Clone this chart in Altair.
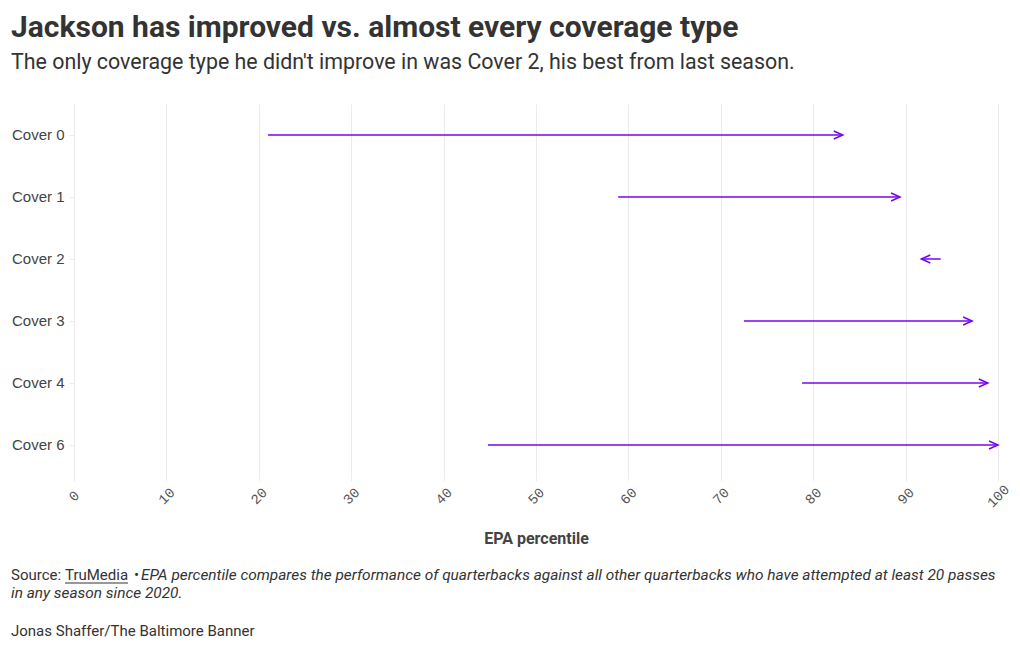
import altair as alt
import pandas as pd

coverages = ["Cover 0", "Cover 1", "Cover 2", "Cover 3", "Cover 4", "Cover 6"]
last_season = [21.0, 58.9, 93.8, 72.5, 78.8, 44.8]
this_season = [83.2, 89.4, 91.7, 97.2, 98.9, 100.0]
x_ticks = [0, 10, 20, 30, 40, 50, 60, 70, 80, 90, 100]

df = pd.DataFrame({"coverage": coverages, "start": last_season, "end": this_season})
df["dir"] = [0 if e >= s else 180 for s, e in zip(last_season, this_season)]

PURPLE = "#7406ee"
FONT = "Roboto"

x_enc = alt.X("start:Q", scale=alt.Scale(domain=[0, 100], nice=False),
              axis=alt.Axis(values=x_ticks, title="EPA percentile", labelAngle=315,
                            labelAlign="center", labelBaseline="middle", labelPadding=15,
                            labelFont="Liberation Mono", labelFontSize=14, labelColor="#555",
                            titleFont=FONT, titleFontSize=16, titleFontWeight="bold",
                            titleColor="#444", titleY=67, titleBaseline="alphabetic",
                            grid=True, gridColor="#ebebeb", tickColor="#ebebeb", tickSize=5,
                            domain=False))
y_enc = alt.Y("coverage:N", sort=coverages, title=None,
              axis=alt.Axis(labelFont="Liberation Sans", labelFontSize=15, labelColor="#444",
                            tickColor="#ebebeb", tickSize=5, labelPadding=5, domain=False,
                            grid=False))

base = alt.Chart(df)
rules = base.mark_rule(color=PURPLE, strokeWidth=1.5).encode(x=x_enc, x2="end:Q", y=y_enc)
heads = base.mark_point(shape="M-1,-0.45L0,0L-1,0.45", size=324, filled=False,
                        color=PURPLE, strokeWidth=1.5, opacity=1).encode(
    x="end:Q", y=alt.Y("coverage:N", sort=coverages),
    angle=alt.Angle("dir:Q", scale=None))

def txt(text, x, y, size, weight="normal", style="normal", color="#333"):
    return alt.Chart(pd.DataFrame({"t": [text]})).mark_text(
        align="left", baseline="alphabetic", font=FONT, fontSize=size,
        fontWeight=weight, fontStyle=style, color=color).encode(
        text="t:N", x=alt.value(x), y=alt.value(y))

texts = [
    txt("Jackson has improved vs. almost every coverage type", -63, -67, 30, weight="bold"),
    txt("The only coverage type he didn't improve in was Cover 2, his best from last season.",
        -63, -35, 21.4),
    txt("Source:", -63, 476, 15),
    txt("TruMedia", -9, 476, 15),
    txt("•", 60, 476, 15),
    txt("EPA percentile compares the performance of quarterbacks against all other quarterbacks who have attempted at least 20 passes",
        67, 476, 15.4, style="italic"),
    txt("in any season since 2020.", -63, 494, 15.4, style="italic"),
    txt("Jonas Shaffer/The Baltimore Banner", -63, 532, 15),
]
underline = alt.Chart(pd.DataFrame({"a": [0]})).mark_rule(color="#333", strokeWidth=1).encode(
    x=alt.value(-9), x2=alt.value(54), y=alt.value(479))

chart = alt.layer(rules, heads, *texts, underline).properties(
    width=924, height=372,
    background="white",
    autosize=alt.AutoSizeParams(type="none"),
    padding={"left": 66, "top": 96, "right": 14, "bottom": 164},
).configure_view(stroke=None)

chart.save("out.html", embed_options={"renderer": "svg", "actions": False})
